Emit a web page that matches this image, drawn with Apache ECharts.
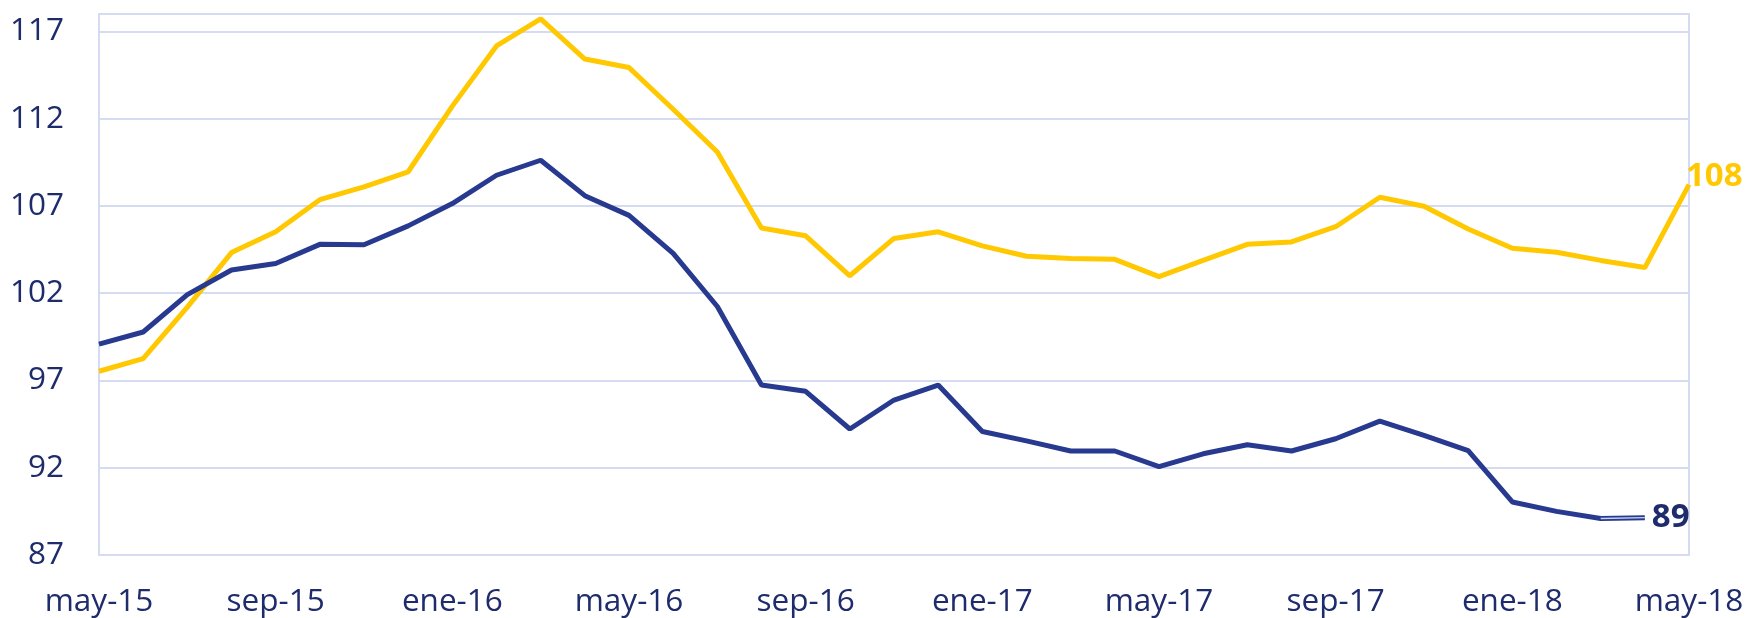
<!doctype html>
<html>
<head>
<meta charset="UTF-8">
<title>Índices may-15 a may-18</title>
<script src="https://cdn.jsdelivr.net/npm/echarts@6/dist/echarts.min.js"></script>
<style>
  html, body { margin: 0; padding: 0; background: #fff; }
  #main { width: 1747px; height: 618px; }
</style>
</head>
<body>
<div id="main"></div>
<script>
// meses (may-15 ... may-18)
var meses = ['may-15','jun-15','jul-15','ago-15','sep-15','oct-15','nov-15','dic-15',
  'ene-16','feb-16','mar-16','abr-16','may-16','jun-16','jul-16','ago-16','sep-16','oct-16','nov-16','dic-16',
  'ene-17','feb-17','mar-17','abr-17','may-17','jun-17','jul-17','ago-17','sep-17','oct-17','nov-17','dic-17',
  'ene-18','feb-18','mar-18','abr-18','may-18'];

var serieAmarilla = [97.53, 98.25, 101.2, 104.33, 105.52, 107.36, 108.09, 108.96,
  112.72, 116.17, 117.72, 115.42, 114.93, 112.54, 110.09, 105.74, 105.29, 103.0, 105.14, 105.52,
  104.71, 104.12, 103.99, 103.94, 102.95, 103.88, 104.80, 104.94, 105.81, 107.50, 106.98, 105.68,
  104.58, 104.35, 103.88, 103.47, 108.22];

// la serie azul termina en abr-18
var serieAzul = [99.08, 99.78, 101.92, 103.33, 103.70, 104.80, 104.78, 105.86,
  107.14, 108.76, 109.62, 107.59, 106.46, 104.28, 101.24, 96.74, 96.38, 94.22, 95.88, 96.74,
  94.08, 93.54, 92.96, 92.96, 92.06, 92.80, 93.32, 92.96, 93.66, 94.67, 93.86, 92.98,
  90.04, 89.50, 89.09, 89.14];

var ejeY = { min: 87, max: 118, paso: 5 };

var azulColor = '#283A8F';
var amarilloColor = '#FFC800';
var textoColor = '#1F2C6C';
var rejilla = '#D5DBF1';

// tramo final de la serie azul (linea doble)
var tramoFinal = serieAzul.map(function (v, i) {
  return i >= serieAzul.length - 2 ? v : null;
});

var myChart = echarts.init(document.getElementById('main'));

var option = {
  animation: false,
  grid: {
    left: 99, right: 58, top: 14, bottom: 62,
    show: true, borderColor: rejilla, borderWidth: 2
  },
  xAxis: {
    type: 'category',
    data: meses,
    boundaryGap: false,
    axisLine: { show: false },
    axisTick: { show: false },
    splitLine: { show: false },
    axisLabel: {
      interval: 3,
      margin: 31,
      color: textoColor,
      fontFamily: 'Open Sans',
      fontSize: 31.5
    }
  },
  yAxis: {
    type: 'value',
    min: ejeY.min,
    max: ejeY.max,
    interval: ejeY.paso,
    axisLine: { show: false },
    axisTick: { show: false },
    splitLine: { lineStyle: { color: rejilla, width: 2 } },
    axisLabel: {
      margin: 35,
      color: textoColor,
      fontFamily: 'Open Sans',
      fontSize: 31.5,
      formatter: function (v) {
        return ((v - ejeY.min) % ejeY.paso === 0) ? String(v) : '';
      }
    }
  },
  series: [
    {
      name: 'amarilla',
      type: 'line',
      data: serieAmarilla,
      symbol: 'none',
      lineStyle: { color: amarilloColor, width: 5 },
      itemStyle: { color: amarilloColor },
      endLabel: {
        show: true,
        distance: 0,
        offset: [-3, -8],
        color: amarilloColor,
        fontFamily: 'Open Sans',
        fontWeight: 'bold',
        fontSize: 33,
        formatter: function (p) { return String(Math.round(p.value)); }
      },
      z: 2
    },
    {
      name: 'azul',
      type: 'line',
      data: serieAzul,
      symbol: 'none',
      lineStyle: { color: azulColor, width: 5 },
      itemStyle: { color: azulColor },
      endLabel: {
        show: true,
        distance: 7,
        color: textoColor,
        fontFamily: 'Open Sans',
        fontWeight: 'bold',
        fontSize: 33,
        formatter: function (p) { return String(Math.round(p.value)); }
      },
      z: 3
    },
    {
      name: 'azul-fin',
      type: 'line',
      data: tramoFinal,
      symbol: 'none',
      silent: true,
      lineStyle: { color: '#C9D1F0', width: 1.4 },
      z: 4
    }
  ]
};

myChart.setOption(option);
</script>
</body>
</html>
